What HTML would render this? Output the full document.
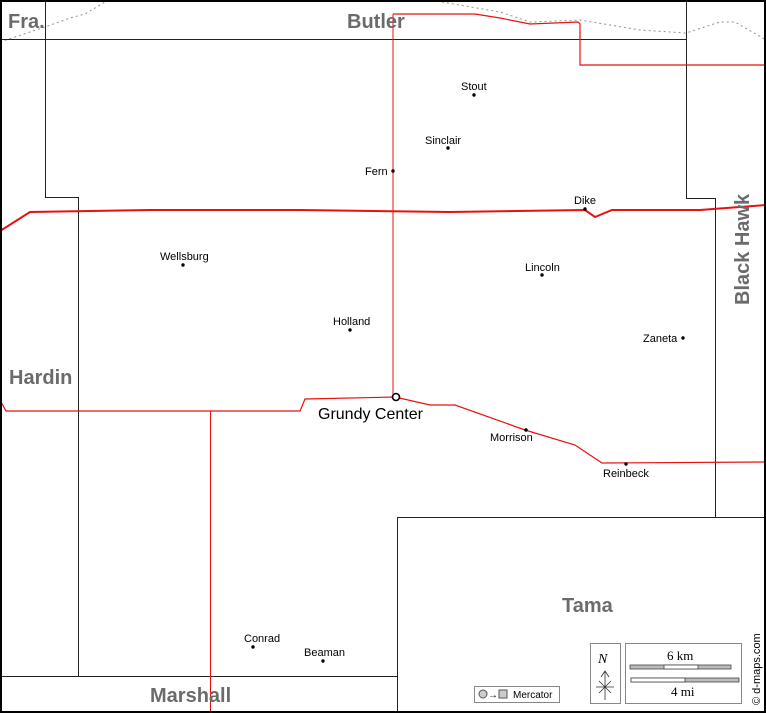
<!DOCTYPE html>
<html><head><meta charset="utf-8"><style>
html,body{margin:0;padding:0;background:#fff}
svg{display:block}
text{font-family:"Liberation Sans",sans-serif}
.c{font-size:11px;fill:#000}
.r{font-size:20px;font-weight:bold;fill:#6b6b6b}
</style></head><body>
<svg width="766" height="713" viewBox="0 0 766 713" xmlns="http://www.w3.org/2000/svg">
<rect x="0" y="0" width="766" height="713" fill="#fff"/>
<path d="M0,42 L45,27 L70,18 L85,14 L95,8 L105,2" fill="none" stroke="#9a8e80" stroke-width="1" stroke-dasharray="2,3"/>
<path d="M442,2 L500,12 L530,22 L580,20 L640,30 L686,33 L720,22 L735,22 L766,40" fill="none" stroke="#9a8e80" stroke-width="1" stroke-dasharray="2,3"/>
<g fill="none" stroke="#222" stroke-width="1">
<path d="M0,39.5 H686"/>
<path d="M45.5,0 V197.5 H78.5 V676.5"/>
<path d="M0,676.5 H397"/>
<path d="M397.5,713 V517.5 H766"/>
<path d="M686.5,0 V198.5 H715.5 V517"/>
</g>
<g fill="none" stroke="#e81010">
<path d="M393,14 H475 L500,18 L530,24 L578,22 L580,24 V65 H766" stroke-width="1.2"/>
<path d="M393,14 V397" stroke-width="1"/>
<path d="M0,231 L30,212 L150,210 L300,210 L450,212 L585,210 L595,217 L612,210 L700,210 L766,205" stroke-width="2"/>
<path d="M0,400 L6,411 L300,411 L305,399 L395,397 L430,405 L455,405 L525,430 L575,445 L602,463 L766,462" stroke-width="1.2"/>
<path d="M210.5,411 V713" stroke-width="1"/>
</g>
<rect x="1" y="1" width="764" height="711" fill="none" stroke="#000" stroke-width="2"/>
<text class="r" x="8" y="28">Fra.</text>
<text class="r" x="347" y="28">Butler</text>
<text class="r" x="9" y="384">Hardin</text>
<text class="r" x="562" y="612">Tama</text>
<text class="r" x="150" y="702">Marshall</text>
<text class="r" transform="translate(749,305) rotate(-90)">Black Hawk</text>
<g fill="#000">
<circle cx="474" cy="95" r="1.7"/><circle cx="448" cy="148" r="1.7"/><circle cx="393" cy="171" r="1.7"/>
<circle cx="585" cy="209" r="1.7"/><circle cx="183" cy="265" r="1.7"/><circle cx="542" cy="275" r="1.7"/>
<circle cx="350" cy="330" r="1.7"/><circle cx="683" cy="338" r="1.7"/><circle cx="526" cy="430" r="1.7"/>
<circle cx="626" cy="464" r="1.7"/><circle cx="253" cy="647" r="1.7"/><circle cx="323" cy="661" r="1.7"/>
</g>
<circle cx="396" cy="397" r="3.5" fill="#fff" stroke="#000" stroke-width="1.6"/>
<text class="c" x="461" y="90">Stout</text>
<text class="c" x="425" y="144">Sinclair</text>
<text class="c" x="365" y="175">Fern</text>
<text class="c" x="574" y="204">Dike</text>
<text class="c" x="160" y="260">Wellsburg</text>
<text class="c" x="525" y="271">Lincoln</text>
<text class="c" x="333" y="325">Holland</text>
<text class="c" x="643" y="342">Zaneta</text>
<text x="318" y="419" style="font-size:16px">Grundy Center</text>
<text class="c" x="490" y="441">Morrison</text>
<text class="c" x="603" y="477">Reinbeck</text>
<text class="c" x="244" y="642">Conrad</text>
<text class="c" x="304" y="656">Beaman</text>
<rect x="474.5" y="686.5" width="85" height="16" fill="#fff" stroke="#888"/>
<circle cx="483" cy="694" r="4" fill="#ccc" stroke="#555"/>
<text x="488" y="698" style="font-size:10px">→</text>
<rect x="499" y="690" width="8" height="8" fill="#ccc" stroke="#555"/>
<text x="513" y="698" style="font-size:10px">Mercator</text>
<rect x="590.5" y="643.5" width="30" height="60" fill="#fff" stroke="#888"/>
<text x="598" y="663" style="font-family:'Liberation Serif',serif;font-style:italic;font-size:14px">N</text>
<path d="M605,672 V700 M601,677 L605,671 L609,677 M596,687 H614 M599,681 L611,693 M611,681 L599,693" stroke="#333" stroke-width="0.8" fill="none"/>
<rect x="625.5" y="643.5" width="116" height="60" fill="#fff" stroke="#888"/>
<text x="667" y="660" style="font-family:'Liberation Serif',serif;font-size:13px">6 km</text>
<rect x="630" y="665" width="101" height="4" fill="#bbb" stroke="#444" stroke-width="0.8"/>
<rect x="664" y="665" width="34" height="4" fill="#fff" stroke="#444" stroke-width="0.8"/>
<rect x="631" y="678" width="108" height="4" fill="#bbb" stroke="#444" stroke-width="0.8"/>
<rect x="631" y="678" width="54" height="4" fill="#fff" stroke="#444" stroke-width="0.8"/>
<text x="671" y="696" style="font-family:'Liberation Serif',serif;font-size:13px">4 mi</text>
<text transform="translate(760,705) rotate(-90)" style="font-size:11px">© d-maps.com</text>
</svg>
</body></html>
